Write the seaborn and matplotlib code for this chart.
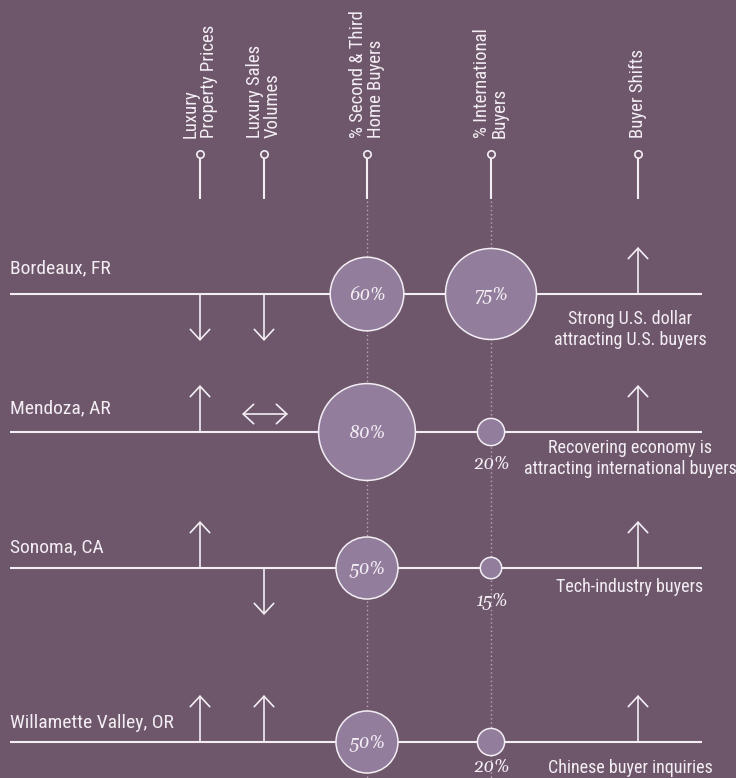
import pandas as pd
import matplotlib.pyplot as plt
import seaborn as sns

# data
cities = ['Bordeaux, FR', 'Mendoza, AR', 'Sonoma, CA', 'Willamette Valley, OR']
price_trend = ['down', 'up', 'up', 'up']
volume_trend = ['down', 'flat', 'down', 'up']
second_home_pct = [60, 80, 50, 50]
intl_pct = [75, 20, 15, 20]
shift_trend = ['up', 'up', 'up', 'up']
shift_notes = ['Strong U.S. dollar\nattracting U.S. buyers',
               'Recovering economy is\nattracting international buyers',
               'Tech-industry buyers',
               'Chinese buyer inquiries']
headers = ['Luxury\nProperty Prices', 'Luxury Sales\nVolumes',
           '% Second & Third\nHome Buyers', '% International\nBuyers', 'Buyer Shifts']

# layout (pixel space)
col_x = [200, 264, 367, 491, 638]
row_y = [294, 432, 568, 742]
label_dy = [-21, -19, -16, -14]
note_dy = [16, 7, 10, 17]
small_lab_dy = [32, 32, 34, 25]

BG = '#6f576b'
BUBBLE = '#927d9d'
FG = '#f3eef3'
DOT = '#b8a6b8'
SANS = ['Roboto Condensed', 'Archivo Narrow', 'DejaVu Sans']
SERIF = ['Gelasio', 'DejaVu Serif']

sns.set_style('white')
plt.rcParams['font.family'] = SANS

fig = plt.figure(figsize=(7.36, 7.78), dpi=100, facecolor=BG)
ax = fig.add_axes([0, 0, 1, 1])
ax.set_facecolor(BG)
ax.set_xlim(0, 736)
ax.set_ylim(778, 0)
ax.axis('off')


def radius(v):
    return 2 + 0.58 * v


def area(v):
    return (2 * radius(v) * 0.72) ** 2


# headers
for x, h in zip(col_x, headers):
    ax.text(x, 138, h, rotation=90, ha='center', va='bottom', multialignment='left',
            fontsize=13.5, color=FG, linespacing=1.0)
ax.vlines(col_x, 158, 199, color=FG, lw=1.5, zorder=2)
ax.vlines(col_x[2:4], 201, 778, color=DOT, lw=1, linestyles=(0, (1, 2)), zorder=1)
sns.scatterplot(x=col_x, y=[154] * 5, s=28, color=BG, edgecolor=FG, linewidth=1.2,
                legend=False, ax=ax, zorder=4)

# row lines and labels
ax.hlines(row_y, 10, 702, color=FG, lw=1.5, zorder=2)
for y, c, dy in zip(row_y, cities, label_dy):
    ax.text(10, y + dy, c, ha='left', va='baseline', fontsize=14, color=FG)

arrow_kw = dict(arrowstyle='->,head_width=0.7,head_length=0.75', color=FG, lw=1.2,
                shrinkA=0, shrinkB=0, mutation_scale=10)


def draw_trend(x, y, trend):
    if trend == 'up':
        ax.annotate('', xy=(x, y - 47), xytext=(x, y), arrowprops=arrow_kw, zorder=3)
    elif trend == 'down':
        ax.annotate('', xy=(x, y + 47), xytext=(x, y), arrowprops=arrow_kw, zorder=3)
    else:
        kw = dict(arrow_kw, arrowstyle='<->,head_width=0.7,head_length=0.75')
        ax.annotate('', xy=(x + 24, y - 18), xytext=(x - 22, y - 18), arrowprops=kw, zorder=3)


for i, y in enumerate(row_y):
    draw_trend(col_x[0], y, price_trend[i])
    draw_trend(col_x[1], y, volume_trend[i])
    draw_trend(col_x[4], y, shift_trend[i])
    ax.text(630, y + note_dy[i], shift_notes[i], ha='center', va='top', fontsize=13,
            color=FG, linespacing=1.2)

# bubbles
bub = pd.DataFrame({
    'x': [col_x[2]] * 4 + [col_x[3]] * 4,
    'y': row_y * 2,
    'pct': second_home_pct + intl_pct,
    'lab_dy': [0] * 4 + small_lab_dy,
})
sns.scatterplot(data=bub, x='x', y='y', size='pct',
                sizes={v: area(v) for v in bub['pct'].unique()},
                color=BUBBLE, edgecolor=FG, linewidth=1.1, alpha=1,
                legend=False, ax=ax, zorder=5)

for _, r in bub.iterrows():
    lab = f"{r['pct']}%"
    if radius(r['pct']) > 25:
        ax.text(r['x'], r['y'] + 1, lab, ha='center', va='center', fontsize=13,
                style='italic', family=SERIF, color=FG, zorder=6)
    else:
        ax.text(r['x'], r['y'] + r['lab_dy'], lab, ha='center', va='center',
                fontsize=13, style='italic', family=SERIF, color=FG, zorder=6)

fig.savefig('out.png', dpi=100, facecolor=BG)
